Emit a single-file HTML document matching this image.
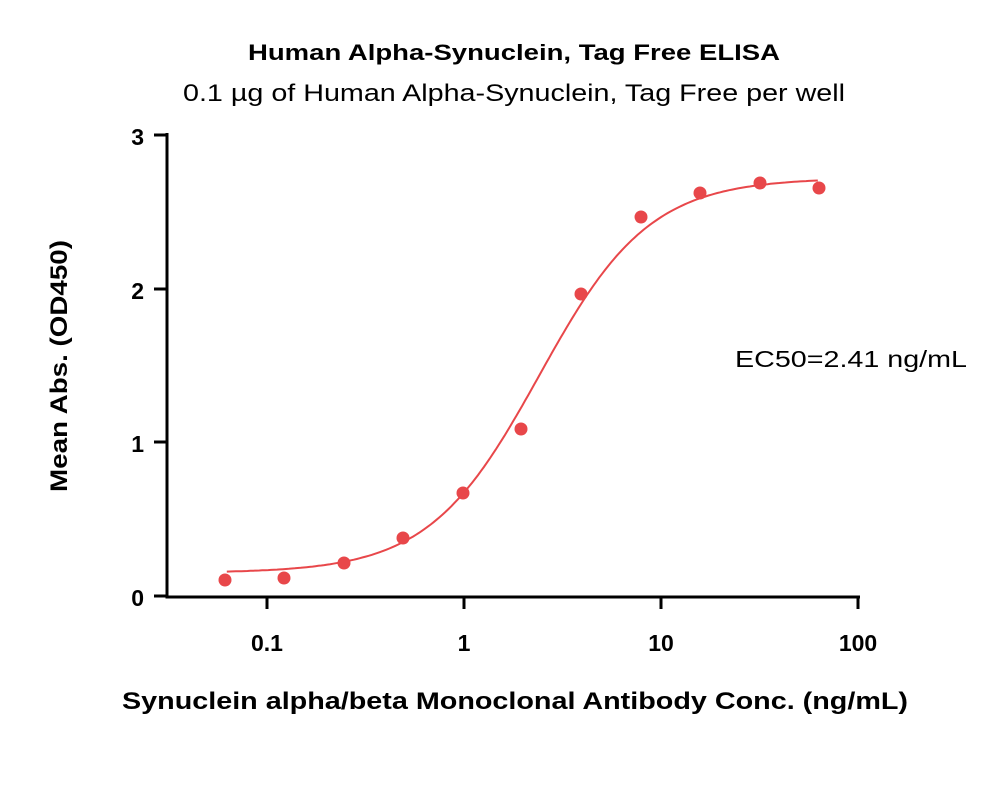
<!DOCTYPE html>
<html><head><meta charset="utf-8"><style>
body{margin:0;background:#fff;width:1000px;height:791px;overflow:hidden}
svg{display:block}
text{font-family:"Liberation Sans",sans-serif;fill:#000}
</style></head><body>
<svg width="1000" height="791" viewBox="0 0 1000 791">
<text x="248" y="60" font-size="22" font-weight="bold" textLength="532" lengthAdjust="spacingAndGlyphs">Human Alpha-Synuclein, Tag Free ELISA</text>
<text x="183" y="101" font-size="24" textLength="662" lengthAdjust="spacingAndGlyphs">0.1 µg of Human Alpha-Synuclein, Tag Free per well</text>
<g stroke="#000" stroke-width="3" fill="none">
<path d="M167,133 V597 H860"/>
<path d="M154,135 H167 M154,289 H167 M154,442 H167 M154,596 H167"/>
<path d="M267,596 V609 M464,596 V609 M661,596 V609 M858,596 V609"/>
</g>
<g font-size="23" font-weight="bold" text-anchor="end">
<text x="144" y="145">3</text><text x="144" y="299">2</text><text x="144" y="452">1</text><text x="144" y="606">0</text>
</g>
<g font-size="23" font-weight="bold" text-anchor="middle">
<text x="267" y="651">0.1</text><text x="464" y="651">1</text><text x="661" y="651">10</text><text x="858" y="651">100</text>
</g>
<text x="122" y="709" font-size="24" font-weight="bold" textLength="786" lengthAdjust="spacingAndGlyphs">Synuclein alpha/beta Monoclonal Antibody Conc. (ng/mL)</text>
<text transform="translate(67,492) rotate(-90)" font-size="24" font-weight="bold" textLength="252" lengthAdjust="spacingAndGlyphs">Mean Abs. (OD450)</text>
<text x="735" y="367" font-size="23" textLength="232" lengthAdjust="spacingAndGlyphs">EC50=2.41 ng/mL</text>
<path id="curve" fill="none" stroke="#e8474a" stroke-width="2"/>
<g id="pts" fill="#e8474a"></g>
</svg>
<script>
var X=function(c){return 464+197*Math.log10(c)},Y=function(v){return 596-153.7*v};
var d="";for(var i=0;i<=200;i++){var lc=Math.log10(0.0625)+i*(Math.log10(62.5)-Math.log10(0.0625))/200;var c=Math.pow(10,lc);var v=0.15+(2.72-0.15)/(1+Math.pow(2.41/c,1.55));d+=(i?"L":"M")+X(c).toFixed(1)+","+Y(v).toFixed(1);}
document.getElementById("curve").setAttribute("d",d);
var p=[[225,580],[284,578],[344,563],[403,538],[463,493],[521,429],[581,294],[641,217],[700,193],[760,183],[819,188]],h="";
p.forEach(function(q){h+='<circle cx="'+q[0]+'" cy="'+q[1]+'" r="6.5"/>';});
document.getElementById("pts").innerHTML=h;
</script>
</body></html>
